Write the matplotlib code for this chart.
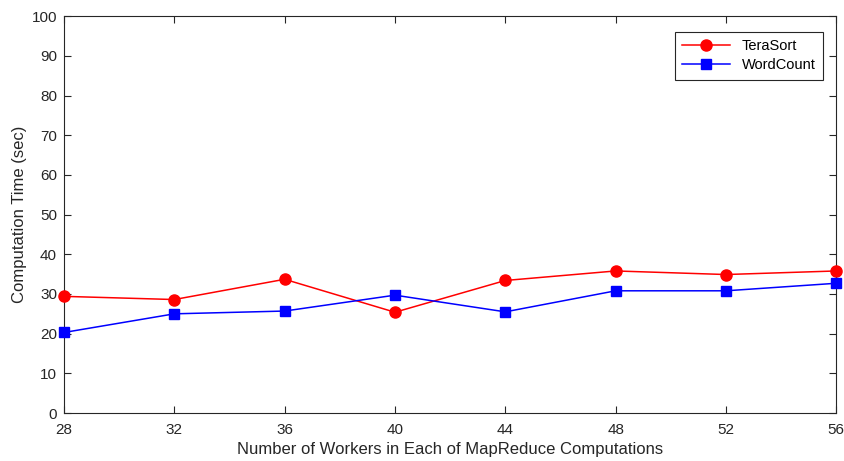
import matplotlib.pyplot as plt

plt.rcParams['font.family'] = ['Liberation Sans', 'DejaVu Sans']

workers = [28, 32, 36, 40, 44, 48, 52, 56]
terasort = [29.4, 28.6, 33.7, 25.4, 33.4, 35.8, 34.9, 35.8]
wordcount = [20.3, 25.0, 25.7, 29.7, 25.5, 30.8, 30.8, 32.7]

fig = plt.figure(figsize=(8.45, 4.61), dpi=100)
ax = fig.add_axes([0.0757, 0.104, 0.914, 0.861])

ax.plot(workers, terasort, color='red', marker='o', markersize=8, linewidth=1.1,
        label='TeraSort', clip_on=False, zorder=3)
ax.plot(workers, wordcount, color='blue', marker='s', markersize=6.5, linewidth=1.1,
        label='WordCount', clip_on=False, zorder=3)

ax.set_xlim(28, 56)
ax.set_ylim(0, 100)
ax.set_xticks(workers)
ax.set_yticks(range(0, 101, 10))

axis_col = '#262626'
for s in ax.spines.values():
    s.set_color(axis_col)
    s.set_linewidth(0.8)
ax.tick_params(direction='in', top=True, right=True, length=5, width=0.8,
               colors=axis_col, labelsize=11, labelcolor=axis_col)
ax.tick_params(axis='x', pad=7)
ax.tick_params(axis='y', pad=5)

ax.set_xlabel('Number of Workers in Each of MapReduce Computations', fontsize=12, color=axis_col, labelpad=4)
ax.set_ylabel('Computation Time (sec)', fontsize=12, color=axis_col)
ax.yaxis.set_label_coords(-0.048, 0.5)

leg = ax.legend(loc='upper right', bbox_to_anchor=(0.983, 0.96), borderaxespad=0,
                fontsize=10.5, fancybox=False, framealpha=1, edgecolor=axis_col,
                handlelength=3.3, borderpad=0.5, labelspacing=0.35)
leg.get_frame().set_linewidth(0.8)

fig.savefig('out.png', dpi=100)
